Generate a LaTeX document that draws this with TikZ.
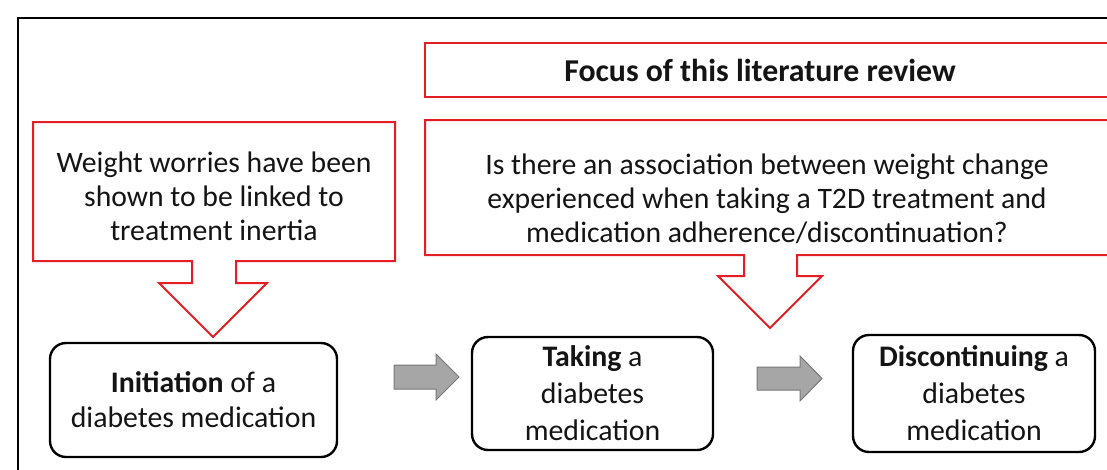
\documentclass[tikz,border=0pt]{standalone}
\usepackage{fontspec}
\setmainfont{Carlito}
\definecolor{cred}{RGB}{228,30,36}
\definecolor{agray}{RGB}{166,166,166}
\definecolor{agrayd}{RGB}{120,120,120}
\definecolor{ink}{RGB}{20,20,20}
\begin{document}
\begin{tikzpicture}[x=1pt,y=-1pt,
  callout/.style={draw=cred, line width=2pt, fill=white, line join=miter},
  stage/.style={draw=black, line width=2.4pt, rounded corners=16pt, align=center, inner sep=0pt, font=\fontsize{29.8}{37}\selectfont, text=ink},
  txt/.style={align=center, font=\fontsize{29.7}{34}\selectfont, text=ink, inner sep=0pt},
  blockarrow/.style={draw=agrayd, fill=agray, line width=1pt, line join=miter}]
\useasboundingbox (0,0) rectangle (1107,469);
\clip (0,0) rectangle (1107,469);
\fill[white] (0,0) rectangle (1107,469);
% outer frame
\draw[black, line width=2pt] (17.5,18) rectangle (1130,490);
% title box
\draw[callout] (425,43) rectangle (1130,97);
\node[txt, font=\fontsize{31.8}{36}\selectfont\bfseries] (title) at (760,70) {Focus of this literature review};
% left callout
\draw[callout] (33,122) -- (395,122) -- (395,261) -- (236,261) -- (236,283) -- (267,283)
  -- (213,337) -- (159,283) -- (192,283) -- (192,261) -- (33,261) -- cycle;
\node[txt] (worry) at (214,196) {Weight worries have been\\shown to be linked to\\treatment inertia};
% right callout
\draw[callout] (425,120) -- (1130,120) -- (1130,255) -- (797,255) -- (797,276) -- (822,276)
  -- (770,328) -- (718,276) -- (744,276) -- (744,255) -- (425,255) -- cycle;
\node[txt] (question) at (767,199) {Is there an association between weight change\\experienced when taking a T2D treatment and\\medication adherence/discontinuation?};
% stages
\node[stage, minimum width=287pt, minimum height=114pt, font=\fontsize{29.8}{35}\selectfont] (init) at (193.5,400) {\textbf{Initiation} of a\\diabetes medication};
\node[stage, minimum width=241pt, minimum height=113pt] (take) at (592.5,393.5) {\textbf{Taking} a\\diabetes\\medication};
\node[stage, minimum width=242pt, minimum height=117pt] (disc) at (974,393.5) {\textbf{Discontinuing} a\\diabetes\\medication};
% grey block arrows
\coordinate (a1) at (394,365);
\coordinate (a2) at (757,367);
\draw[blockarrow] (a1) -- ++(42,0) -- ++(0,-11) -- ++(23,23) -- ++(-23,23) -- ++(0,-11) -- ++(-42,0) -- cycle;
\draw[blockarrow] (a2) -- ++(43,0) -- ++(0,-11) -- ++(22,22.5) -- ++(-22,22.5) -- ++(0,-11) -- ++(-43,0) -- cycle;
\end{tikzpicture}
\end{document}
